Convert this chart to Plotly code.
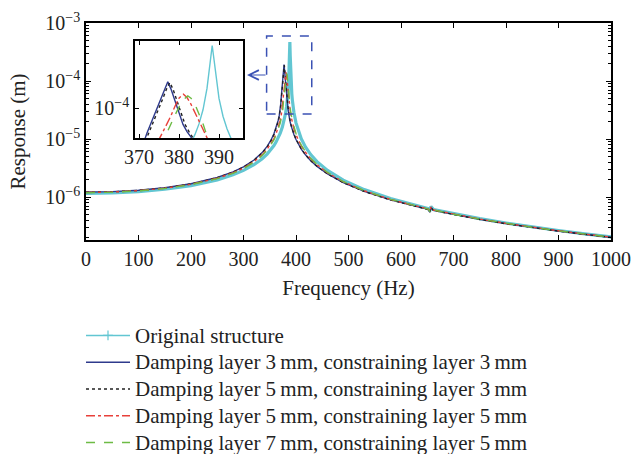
import plotly.graph_objects as go

# ---------------- data ----------------
names = [
    "Original structure",
    "Damping layer 3\u2009mm, constraining layer 3\u2009mm",
    "Damping layer 5\u2009mm, constraining layer 3\u2009mm",
    "Damping layer 5\u2009mm, constraining layer 5\u2009mm",
    "Damping layer 7\u2009mm, constraining layer 5\u2009mm",
]

f_orig = [0, 50, 100, 150, 200, 250, 280, 300, 320, 335,
          345, 352, 358, 362, 366, 370, 374, 377, 380, 382,
          383, 384, 385, 386, 387, 388.3, 389, 390, 391, 392,
          393, 394, 396, 400, 405, 410, 418, 428, 440, 460,
          490, 530, 580, 620, 645, 652, 655, 657, 662, 700,
          750, 800, 850, 900, 950, 1000]
r_orig = [1.16e-6, 1.180e-6, 1.242e-6, 1.363e-6, 1.579e-6, 1.981e-6, 2.417e-6, 2.878e-6, 3.615e-6, 4.537e-6,
          5.508e-6, 6.508e-6, 7.733e-6, 8.862e-6, 1.040e-5, 1.260e-5, 1.604e-5, 2.022e-5, 2.744e-5, 3.604e-5,
          4.26e-5, 5.23e-5, 6.78e-5, 9.61e-5, 1.627e-4, 4.7e-4, 2.66e-4, 1.273e-4, 8.19e-5, 6.01e-5,
          4.74e-5, 3.91e-5, 2.897e-5, 1.896e-5, 1.320e-5, 1.010e-5, 7.30e-6, 5.40e-6, 4.08e-6, 2.876e-6,
          1.958e-6, 1.344e-6, 9.42e-7, 7.49e-7, 6.59e-7, 6.35e-7, 5.7e-7, 6.9e-7, 6.1e-7, 5.16e-7,
          4.25e-7, 3.575e-7, 3.06e-7, 2.653e-7, 2.327e-7, 2.06e-7]

f_d3c3 = [0, 50, 100, 150, 200, 250, 280, 300, 320, 335,
          345, 352, 358, 362, 366, 368, 370, 371, 372, 373,
          374, 375, 376, 377.2, 378, 379, 380, 381, 382, 383,
          384, 385, 386, 388, 390, 393, 396, 400, 405, 410,
          418, 428, 440, 460, 490, 530, 580, 620, 645, 652,
          655, 657, 662, 700, 750, 800, 850, 900, 950, 1000]
r_d3c3 = [1.22e-6, 1.242e-6, 1.312e-6, 1.449e-6, 1.697e-6, 2.176e-6, 2.717e-6, 3.320e-6, 4.353e-6, 5.776e-6,
          7.46e-6, 9.45e-6, 1.230e-5, 1.545e-5, 2.086e-5, 2.531e-5, 3.3e-5, 4.1e-5, 5.4e-5, 6.9e-5,
          8.8e-5, 1.12e-4, 1.44e-4, 1.92e-4, 1.6e-4, 1.18e-4, 8.6e-5, 6.7e-5, 5.6e-5, 4.9e-5,
          3.9e-5, 3.2e-5, 2.7e-5, 2.15e-5, 1.77e-5, 1.427e-5, 1.194e-5, 9.80e-6, 7.98e-6, 6.72e-6,
          5.35e-6, 4.24e-6, 3.382e-6, 2.504e-6, 1.775e-6, 1.252e-6, 8.94e-7, 7.17e-7, 6.34e-7, 6.12e-7,
          5.5e-7, 6.65e-7, 5.88e-7, 4.99e-7, 4.13e-7, 3.487e-7, 2.992e-7, 2.600e-7, 2.283e-7, 2.024e-7]

f_d5c3 = [0, 50, 100, 150, 200, 250, 280, 300, 320, 335,
          345, 352, 358, 362, 366, 368, 370, 371, 372, 373,
          374, 375, 376, 377, 377.7, 378.5, 379.5, 380.5, 381.5, 382.5,
          383.5, 385, 386, 388, 390, 393, 396, 400, 405, 410,
          418, 428, 440, 460, 490, 530, 580, 620, 645, 652,
          655, 657, 662, 700, 750, 800, 850, 900, 950, 1000]
r_d5c3 = [1.21e-6, 1.232e-6, 1.301e-6, 1.437e-6, 1.681e-6, 2.153e-6, 2.686e-6, 3.278e-6, 4.288e-6, 5.672e-6,
          7.304e-6, 9.205e-6, 1.191e-5, 1.486e-5, 1.984e-5, 2.387e-5, 3.0e-5, 3.8e-5, 4.9e-5, 6.2e-5,
          7.9e-5, 1.0e-4, 1.28e-4, 1.65e-4, 1.88e-4, 1.6e-4, 1.18e-4, 8.6e-5, 6.7e-5, 5.6e-5,
          4.8e-5, 3.4e-5, 2.85e-5, 2.25e-5, 1.828e-5, 1.464e-5, 1.219e-5, 9.95e-6, 8.08e-6, 6.78e-6,
          5.38e-6, 4.26e-6, 3.388e-6, 2.503e-6, 1.771e-6, 1.249e-6, 8.91e-7, 7.14e-7, 6.32e-7, 6.10e-7,
          5.48e-7, 6.62e-7, 5.86e-7, 4.97e-7, 4.11e-7, 3.471e-7, 2.977e-7, 2.587e-7, 2.272e-7, 2.013e-7]

f_d5c5 = [0, 50, 100, 150, 200, 250, 280, 300, 320, 335,
          345, 352, 358, 362, 366, 370, 372, 374, 375.2, 376,
          377, 378, 379, 380, 381.1, 382, 383, 384, 385, 386,
          387, 388, 390, 393, 396, 400, 405, 410, 418, 428,
          440, 460, 490, 530, 580, 620, 645, 652, 655, 657,
          662, 700, 750, 800, 850, 900, 950, 1000]
r_d5c5 = [1.20e-6, 1.221e-6, 1.289e-6, 1.420e-6, 1.656e-6, 2.106e-6, 2.608e-6, 3.155e-6, 4.069e-6, 5.279e-6,
          6.649e-6, 8.170e-6, 1.021e-5, 1.228e-5, 1.545e-5, 2.091e-5, 2.6e-5, 3.5e-5, 4.8e-5, 5.6e-5,
          6.8e-5, 8.3e-5, 1.05e-4, 1.28e-4, 1.41e-4, 1.3e-4, 1.1e-4, 8.8e-5, 7.0e-5, 5.6e-5,
          4.6e-5, 3.8e-5, 2.6e-5, 1.892e-5, 1.505e-5, 1.181e-5, 9.28e-6, 7.62e-6, 5.91e-6, 4.59e-6,
          3.604e-6, 2.626e-6, 1.837e-6, 1.285e-6, 9.12e-7, 7.29e-7, 6.43e-7, 6.23e-7, 5.6e-7, 6.75e-7,
          5.98e-7, 5.06e-7, 4.18e-7, 3.52e-7, 3.02e-7, 2.622e-7, 2.302e-7, 2.039e-7]

f_d7c5 = [0, 50, 100, 150, 200, 250, 280, 300, 320, 335,
          345, 352, 358, 362, 366, 370, 372, 374, 375, 376.4,
          377, 378, 379, 380, 381, 382.2, 383, 384, 385, 386,
          387.1, 388, 390, 393, 396, 400, 405, 410, 418, 428,
          440, 460, 490, 530, 580, 620, 645, 652, 655, 657,
          662, 700, 750, 800, 850, 900, 950, 1000]
r_d7c5 = [1.19e-6, 1.211e-6, 1.277e-6, 1.407e-6, 1.639e-6, 2.080e-6, 2.569e-6, 3.100e-6, 3.980e-6, 5.135e-6,
          6.426e-6, 7.840e-6, 9.705e-6, 1.156e-5, 1.434e-5, 1.895e-5, 2.261e-5, 2.808e-5, 3.3e-5, 4.8e-5,
          5.5e-5, 6.8e-5, 8.4e-5, 1.03e-4, 1.22e-4, 1.35e-4, 1.28e-4, 1.1e-4, 8.8e-5, 6.8e-5,
          4.9e-5, 4.1e-5, 2.9e-5, 2.076e-5, 1.619e-5, 1.249e-5, 9.69e-6, 7.89e-6, 6.07e-6, 4.68e-6,
          3.658e-6, 2.653e-6, 1.849e-6, 1.289e-6, 9.13e-7, 7.29e-7, 6.43e-7, 6.23e-7, 5.6e-7, 6.75e-7,
          5.98e-7, 5.05e-7, 4.17e-7, 3.52e-7, 3.02e-7, 2.618e-7, 2.298e-7, 2.036e-7]

x_ticks = [0, 100, 200, 300, 400, 500, 600, 700, 800, 900, 1000]
y_tickvals = [1e-6, 1e-5, 1e-4, 1e-3]
y_ticktext = ["10<sup>\u22126</sup>", "10<sup>\u22125</sup>", "10<sup>\u22124</sup>", "10<sup>\u22123</sup>"]
inset_x_ticks = [370, 380, 390]

series = [(f_orig, r_orig), (f_d3c3, r_d3c3), (f_d5c3, r_d5c3), (f_d5c5, r_d5c5), (f_d7c5, r_d7c5)]
for fx, ry in series:
    assert len(fx) == len(ry), (len(fx), len(ry))

# ---------------- styles ----------------
colors = ["#62C6D2", "#2E3A8C", "#222222", "#E8403A", "#6DBB45"]
dashes = ["solid", "solid", "dot", "dashdot", "dash"]
main_widths = [3.2, 1.4, 1.4, 1.4, 1.4]
FONT = "Liberation Serif"
TXT = "#222"

def leg(name):
    return '<span style="font-size:21px">' + name + "</span>"

fig = go.Figure()
for i, (fx, ry) in enumerate(series):
    fig.add_trace(go.Scatter(x=fx, y=ry, name=leg(names[i]), xaxis="x", yaxis="y", mode="lines",
                             showlegend=(i != 0), legendrank=i + 1,
                             line=dict(color=colors[i], width=main_widths[i], dash=dashes[i])))
# legend entry for the original structure (line with + marker)
fig.add_trace(go.Scatter(x=[None], y=[None], name=leg(names[0]), mode="lines+markers", legendrank=0,
                         line=dict(color=colors[0], width=1.5),
                         marker=dict(symbol="cross-thin", size=7, line=dict(color=colors[0], width=1.2))))

for i, (fx, ry) in enumerate(series):
    fig.add_trace(go.Scatter(x=fx, y=ry, mode="lines", showlegend=False, xaxis="x2", yaxis="y2",
                             line=dict(color=colors[i], width=1.4, dash=dashes[i])))

W, H = 634, 454
L, R, T, B = 86, 611, 23, 240
pw, ph = R - L, B - T

def px_x(p):
    return (p - L) / pw

def px_y(p):
    return (B - p) / ph

axis_common = dict(showline=True, linecolor="black", linewidth=1.5, mirror="ticks", automargin=False,
                   ticks="inside", tickcolor="black", tickwidth=1, showgrid=False, zeroline=False,
                   tickfont=dict(family=FONT, size=20, color=TXT))

fig.update_layout(
    width=W, height=H,
    margin=dict(l=L, r=W - R, t=T, b=H - B, autoexpand=False),
    paper_bgcolor="white", plot_bgcolor="white",
    font=dict(family=FONT, size=20, color=TXT),
    xaxis=dict(range=[0, 1000], tickvals=x_ticks, ticklen=5,
               title=dict(text="Frequency (Hz)", font=dict(family=FONT, size=21, color=TXT), standoff=12),
               **axis_common),
    yaxis=dict(type="log", range=[-6.74, -3], tickvals=y_tickvals, ticktext=y_ticktext, ticklen=5,
               minor=dict(ticks="inside", ticklen=3, tickcolor="black", dtick="D1", showgrid=False),
               title=dict(text="Response (m)", font=dict(family=FONT, size=21, color=TXT), standoff=14),
               **axis_common),
    xaxis2=dict(domain=[px_x(135), px_x(243)], anchor="y2", range=[369, 396], tickvals=inset_x_ticks,
                ticklen=4, **axis_common),
    yaxis2=dict(domain=[px_y(138), px_y(41)], anchor="x2", type="log", range=[-4.32, -3.28],
                tickvals=[1e-4], ticktext=["10<sup>\u22124</sup>"], ticklen=4, **axis_common),
    legend=dict(x=px_x(81), y=px_y(317), xanchor="left", yanchor="top", bgcolor="rgba(0,0,0,0)",
                font=dict(family=FONT, size=18.3, color=TXT), itemwidth=44, tracegroupgap=0),
    showlegend=True,
)

# dashed zoom box and arrow
fig.add_shape(type="rect", xref="x", yref="paper", x0=344, x1=430, y0=px_y(114), y1=px_y(36),
              line=dict(color="#3B52B4", width=1.5, dash="dash"))
fig.add_annotation(x=(247 - L) / pw * 1000, xref="x", y=px_y(75), yref="paper", ax=20, ay=0,
                   text="", showarrow=True, arrowhead=5, arrowsize=1.6, arrowwidth=1.2,
                   arrowcolor="#3B52B4")

fig.write_html("out.html")
